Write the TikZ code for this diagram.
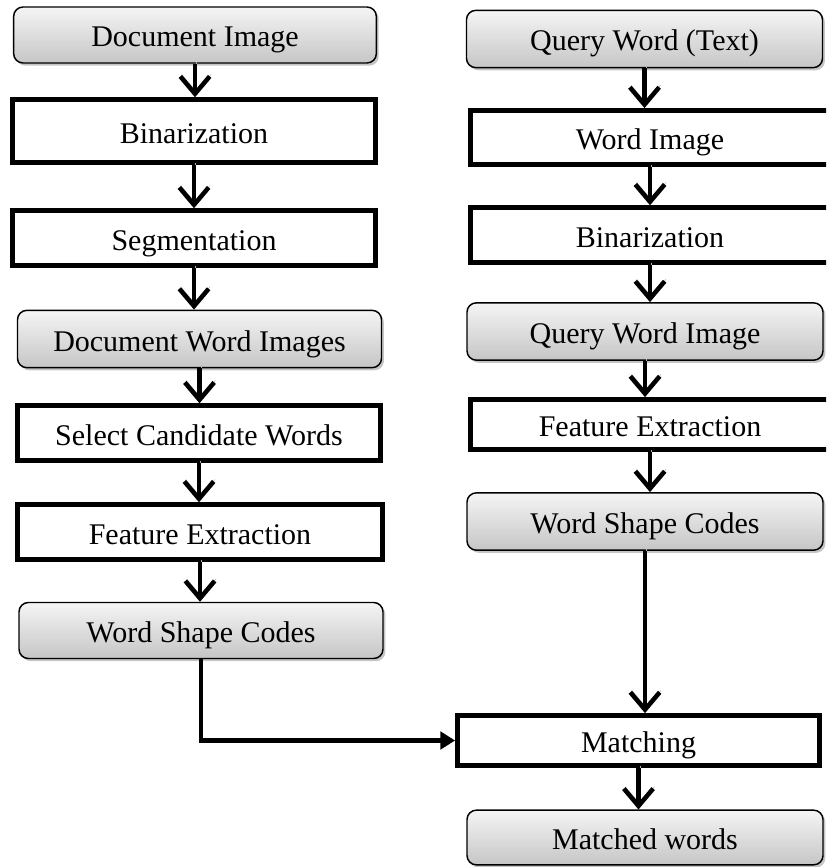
\documentclass[tikz,border=0pt]{standalone}
\usepackage{fontspec}
\setmainfont{Liberation Serif}
\usetikzlibrary{arrows.meta,shadows}

\begin{document}
\begin{tikzpicture}[x=0.75pt,y=0.75pt,yscale=-1,xscale=1,
  stage/.style={draw, line width=3.6pt, fill=white, inner sep=0pt, text height=20pt, text depth=2pt,
    font=\fontsize{22.5}{27}\selectfont},
  datum/.style={draw, line width=1.1pt, rounded corners=7pt, top color=gray!8, bottom color=gray!45, inner sep=0pt,
    text height=20pt, text depth=2pt, font=\fontsize{22.5}{27}\selectfont,
    drop shadow={shadow xshift=1.8pt, shadow yshift=-2pt, fill=black!45}},
  flow/.style={line width=3.4pt, -{Straight Barb[length=13pt,width=22pt]},
    preaction={draw=black!30, transform canvas={shift={(1pt,1.5pt)}}}},
  merge/.style={line width=3.4pt, -{Triangle[length=11pt,width=13pt]}}]
\clip (0,0) rectangle (826,867);

% Left column: document side
\node [datum, minimum width=272pt, minimum height=42pt] (docimg) at (195,35) {Document Image};
\node [stage, minimum width=272pt, minimum height=47pt] (bin1) at (194,131) {Binarization};
\node [stage, minimum width=272pt, minimum height=41pt] (seg) at (194,238) {Segmentation};
\node [datum, minimum width=273pt, minimum height=43pt] (dwi) at (199.5,339) {Document Word Images};
\node [stage, minimum width=272pt, minimum height=41pt] (scw) at (199,433) {Select Candidate Words};
\node [stage, minimum width=274pt, minimum height=41pt] (fe1) at (200,532) {Feature Extraction};
\node [datum, minimum width=273pt, minimum height=42pt] (wsc1) at (201,630.5) {Word Shape Codes};

% Right column: query side
\node [datum, minimum width=267pt, minimum height=43pt] (qwt) at (644.5,39) {Query Word (Text)};
\node [stage, minimum width=269pt, minimum height=40.5pt] (wimg) at (650,137.5) {Word Image};
\node [stage, minimum width=269pt, minimum height=41pt] (bin2) at (650,235) {Binarization};
\node [datum, minimum width=267pt, minimum height=43pt] (qwi) at (645,331.5) {Query Word Image};
\node [stage, minimum width=269pt, minimum height=37.5pt] (fe2) at (650,424.5) {Feature Extraction};
\node [datum, minimum width=267pt, minimum height=43pt] (wsc2) at (645,521.5) {Word Shape Codes};

% Bottom
\node [stage, minimum width=271.5pt, minimum height=37.5pt] (match) at (638.5,740.5) {Matching};
\node [datum, minimum width=267pt, minimum height=41pt] (matched) at (645,837.5) {Matched words};

% Arrows
\draw [flow] (docimg) -- (docimg |- bin1.north);
\draw [flow] (bin1) -- (bin1 |- seg.north);
\draw [flow] (seg) -- (seg |- dwi.north);
\draw [flow] (dwi) -- (dwi |- scw.north);
\draw [flow] (scw) -- (scw |- fe1.north);
\draw [flow] (fe1) -- (fe1 |- wsc1.north);

\draw [flow] (qwt) -- (qwt |- wimg.north);
\draw [flow] (wimg) -- (wimg |- bin2.north);
\draw [flow] (bin2) -- (bin2 |- qwi.north);
\draw [flow] (qwi) -- (qwi |- fe2.north);
\draw [flow] (fe2) -- (fe2 |- wsc2.north);
\draw [flow] (wsc2) -- (wsc2 |- match.north);

\draw [merge] (wsc1.south) |- (match.west);
\draw [flow] (match) -- (match |- matched.north);

\end{tikzpicture}
\end{document}
